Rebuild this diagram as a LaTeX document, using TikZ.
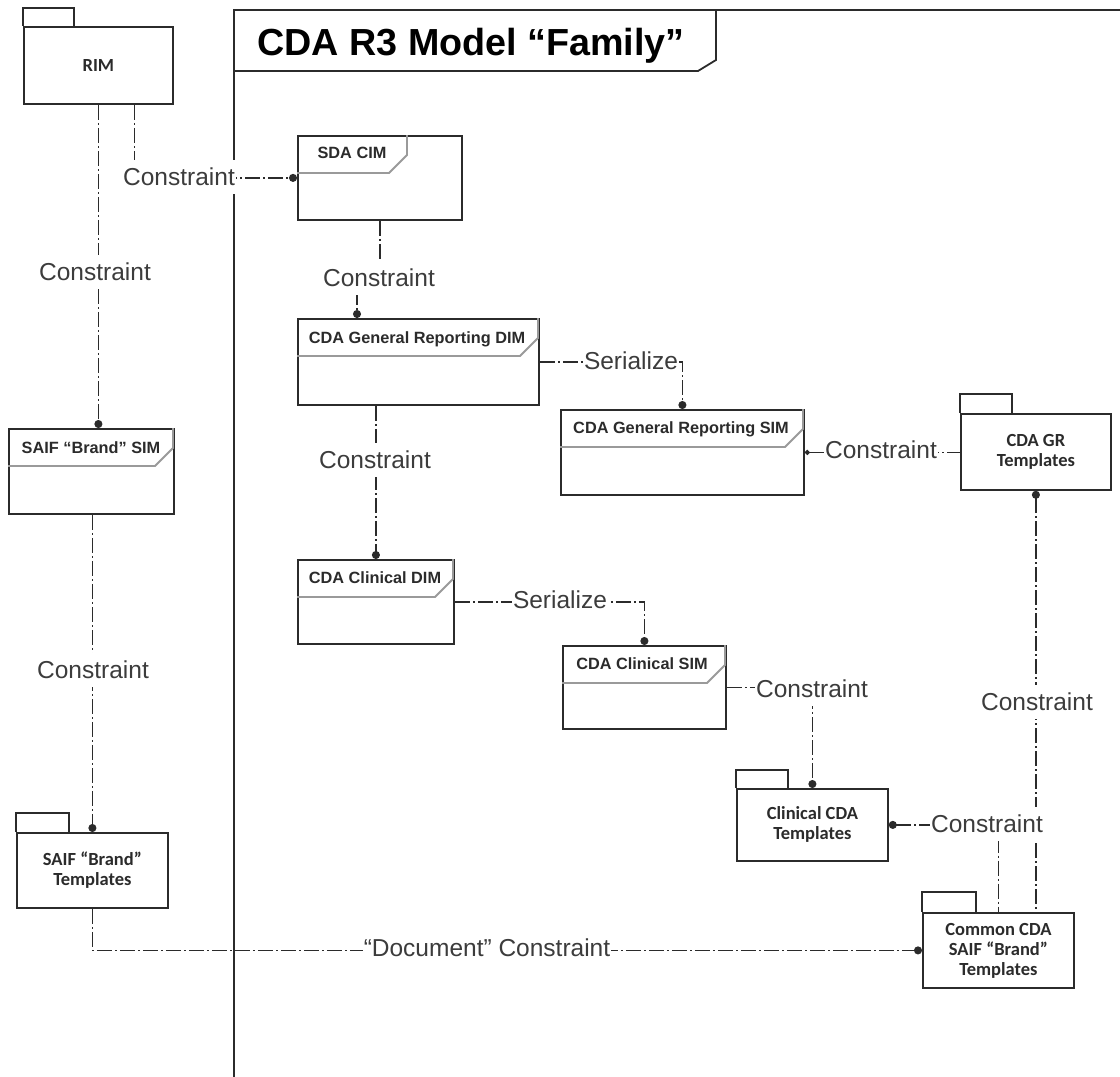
\documentclass[tikz,border=0pt]{standalone}
\usepackage{fontspec}
\setmainfont{Liberation Sans}
\newfontfamily\pkgfont{Carlito}
\usetikzlibrary{arrows.meta,calc}
\definecolor{ink}{HTML}{2B2B2B}
\definecolor{lbltext}{HTML}{3C3C3C}
\definecolor{notch}{HTML}{9A9A9A}

% header notch of a class box: node, header depth, length of the header's bottom edge
\newcommand{\clsnotch}[3]{%
  \draw[notchline] ([yshift=-#2pt]#1.north west) -- ++(#3,0) -- ++(18,-18) -- ++(0,{-(#2-18)});}
% folder tab of a package box: node, tab width, tab height
\newcommand{\pkgtab}[3]{%
  \draw[boxline] (#1.north west) -- ++(0,-#3) -- ++(#2,0) -- ++(0,#3);}

\begin{document}
\begin{tikzpicture}[x=1pt,y=-1pt,
  boxline/.style={draw=ink, line width=1.8pt},
  frameline/.style={draw=ink, line width=1.8pt},
  clsbox/.style={boxline, fill=white, anchor=north west, inner sep=0pt},
  pkgbox/.style={boxline, fill=white, anchor=north west, inner sep=0pt, align=center,
    font=\pkgfont\bfseries\fontsize{18.5}{20}\selectfont, text=ink},
  clsname/.style={font=\bfseries\fontsize{16.3}{19}\selectfont, text=ink, inner sep=0pt, anchor=base},
  notchline/.style={draw=notch, line width=1.8pt},
  conn/.style={draw=ink, line width=1.4pt, dash pattern=on 15pt off 3pt on 2pt off 3pt},
  ball/.style={-{Circle[length=8pt]}},
  lbl/.style={fill=white, inner xsep=1pt, inner ysep=8pt,
    font=\fontsize{24.5}{28}\selectfont, text=lbltext},
]
\useasboundingbox (0,0) rectangle (1120,1077);

% model family frame with its title tab
\draw[frameline] (234,1077) -- (234,10) -- (1121,10);
\draw[frameline] (234,71) -- (698,71) -- (716,60) -- (716,10);
\node[font=\bfseries\fontsize{37.7}{45}\selectfont, anchor=base, text=black] (title) at (471,55)
  {CDA R3 Model “Family”};

% packages
\node[pkgbox, minimum width=149pt, minimum height=77pt] (rim) at (23,26) {RIM};
\pkgtab{rim}{51}{18}
\node[pkgbox, minimum width=150pt, minimum height=76pt] (grt) at (960,413) {CDA GR\\Templates};
\pkgtab{grt}{52}{19}
\node[pkgbox, minimum width=151pt, minimum height=72pt] (ctpl) at (736,788) {Clinical CDA\\Templates};
\pkgtab{ctpl}{52}{18}
\node[pkgbox, minimum width=151pt, minimum height=75pt] (stpl) at (16,832) {SAIF “Brand”\\Templates};
\pkgtab{stpl}{53}{19}
\node[pkgbox, minimum width=151pt, minimum height=75pt] (common) at (922,912)
  {Common CDA\\SAIF “Brand”\\Templates};
\pkgtab{common}{54}{20}

% class models
\node[clsbox, minimum width=164pt, minimum height=84pt] (sda) at (297,135) {};
\clsnotch{sda}{38}{92}
\node[clsname] (sdaname) at ($(sda.north west)+(55,23)$) {SDA CIM};

\node[clsbox, minimum width=241pt, minimum height=86pt] (grdim) at (297,318) {};
\clsnotch{grdim}{38}{223}
\node[clsname] (grdimname) at ($(grdim.north west)+(120,25)$) {CDA General Reporting DIM};

\node[clsbox, minimum width=243pt, minimum height=85pt] (grsim) at (560,409) {};
\clsnotch{grsim}{38}{225}
\node[clsname] (grsimname) at ($(grsim.north west)+(121,24)$) {CDA General Reporting SIM};

\node[clsbox, minimum width=156pt, minimum height=84pt] (cdim) at (297,559) {};
\clsnotch{cdim}{38}{138}
\node[clsname] (cdimname) at ($(cdim.north west)+(78,24)$) {CDA Clinical DIM};

\node[clsbox, minimum width=163pt, minimum height=83pt] (csim) at (562,645) {};
\clsnotch{csim}{38}{145}
\node[clsname] (csimname) at ($(csim.north west)+(80,24)$) {CDA Clinical SIM};

\node[clsbox, minimum width=165pt, minimum height=85pt] (saifsim) at (8,428) {};
\clsnotch{saifsim}{38}{147}
\node[clsname] (saifsimname) at ($(saifsim.north west)+(83,25)$) {SAIF “Brand” SIM};

% connectors
\coordinate (sdabend) at (357,278);
\draw[conn, ball] (rim.south) -- (rim.south |- saifsim.north);
\draw[conn, ball] ([xshift=36pt]rim.south) |- (sda.west);
\draw[conn, ball] (sda.south) |- (sdabend) -- (sdabend |- grdim.north);
\draw[conn, ball] (cdim.north |- grdim.south) -- (cdim.north);
\draw[conn, ball] (grdim.east) -| (grsim.north);
\draw[conn, {Circle[length=5pt]}-] (grsim.east) -- (grsim.east -| grt.west);
\draw[conn, {Circle[length=8pt]}-] (grt.south) -- (grt.south |- common.north);
\draw[conn, ball] (cdim.east) -| (csim.north);
\draw[conn, ball] (csim.east) -| (ctpl.north);
\draw[conn, {Circle[length=8pt]}-] (ctpl.east) -| (common.north);
\draw[conn, ball] (stpl.north |- saifsim.south) -- (stpl.north);
\draw[conn, ball] (stpl.south) |- (common.west);

% connector labels
\node[lbl] (l1) at (95,272) {Constraint};
\node[lbl] (l2) at (179,177) {Constraint};
\node[lbl] (l3) at (379,278) {Constraint};
\node[lbl] (l4) at (375,460) {Constraint};
\node[lbl] (l5) at (631,361) {Serialize};
\node[lbl] (l6) at (881,450) {Constraint};
\node[lbl] (l7) at (1037,702) {Constraint};
\node[lbl] (l8) at (560,600) {Serialize};
\node[lbl] (l9) at (812,689) {Constraint};
\node[lbl] (l10) at (987,824) {Constraint};
\node[lbl] (l11) at (93,670) {Constraint};
\node[lbl] (l12) at (487,948) {“Document” Constraint};
\end{tikzpicture}
\end{document}
